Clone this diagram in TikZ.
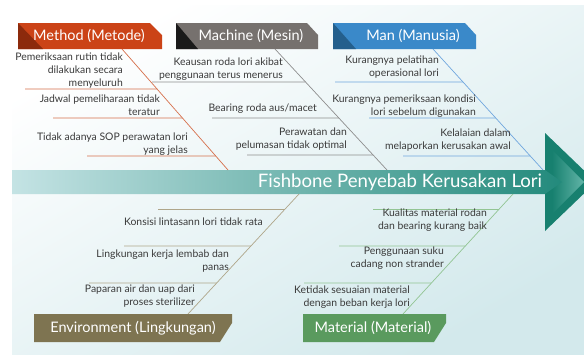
\documentclass[tikz,border=0pt]{standalone}
\usepackage{fontspec}
\setmainfont{Lato}
\usetikzlibrary{calc}
\definecolor{bgc}{HTML}{D3E9EC}
\definecolor{spineL}{HTML}{C4E3E4}
\definecolor{spineR}{HTML}{238A7C}
\definecolor{arrD}{HTML}{17806F}
\definecolor{arrL}{HTML}{62B5A8}
\definecolor{metC}{HTML}{CB4317}
\definecolor{metD}{HTML}{8C2A0C}
\definecolor{metL}{HTML}{D6704C}
\definecolor{macC}{HTML}{76716E}
\definecolor{macD}{HTML}{1A1A1A}
\definecolor{macL}{HTML}{8E8E8E}
\definecolor{manC}{HTML}{3A89C9}
\definecolor{manD}{HTML}{245F8C}
\definecolor{manL}{HTML}{6FA6DE}
\definecolor{envC}{HTML}{7E7451}
\definecolor{envL}{HTML}{AFA68A}
\definecolor{matC}{HTML}{5A9A5E}
\definecolor{matL}{HTML}{93C594}
\definecolor{txt}{HTML}{3A3A3A}
\tikzset{
  cause/.style={anchor=base east, align=right, inner sep=0pt, text=txt,
    font=\fontsize{10.4}{12.8}\selectfont},
  head/.style={text=white, inner sep=0pt, font=\fontsize{14.5}{16}\selectfont},
  bone/.style={line width=0.7pt},
}
\begin{document}
\begin{tikzpicture}[x=1pt,y=-1pt]
\useasboundingbox (0,0) rectangle (584,354);
% background
\shade[top color=white, bottom color=bgc, shading angle=30] (12,5) rectangle (584,354);

% arrow head
\fill[arrD] (545,133) -- (596,182) -- (545,231) -- cycle;
\shade[left color=arrD, right color=arrL] (552,150) -- (584,182) -- (552,214) -- cycle;
% spine band
\shade[left color=spineL, right color=spineR] (12,170) -- (545,170) -- (562,182) -- (545,194) -- (12,194) -- cycle;
\node[text=white, inner sep=0pt, font=\fontsize{18.6}{20}\selectfont] (spine) at (400,182) {Fishbone Penyebab Kerusakan Lori};

% ===== headers =====
\fill[metC] (18,23) -- (150,23) -- (162,35) -- (162,49) -- (18,49) -- cycle;
\fill[metD] (18,23) -- (43,49) -- (18,49) -- cycle;
\node[head] (method) at (89,36) {Method (Metode)};

\fill[macC] (176,23) -- (307,23) -- (318,35) -- (318,49) -- (176,49) -- cycle;
\fill[macD] (176,23) -- (198,49) -- (176,49) -- cycle;
\node[head] (machine) at (251,36) {Machine (Mesin)};

\fill[manC] (333,23) -- (465,23) -- (476,35) -- (476,49) -- (333,49) -- cycle;
\fill[manD] (333,23) -- (356,49) -- (333,49) -- cycle;
\node[head] (man) at (413,36) {Man (Manusia)};

\fill[envC] (34,314) -- (232,314) -- (232,323) -- (220,342) -- (34,342) -- cycle;
\node[head] (env) at (133,328) {Environment (Lingkungan)};

\fill[matC] (303,314) -- (446,314) -- (446,323) -- (434,342) -- (303,342) -- cycle;
\node[head] (mat) at (373,328) {Material (Material)};

% ===== bones =====
\coordinate (mA) at (122,49);  \coordinate (mB) at (228,170);
\coordinate (cA) at (275,49);  \coordinate (cB) at (387,170);
\coordinate (nA) at (433,49);  \coordinate (nB) at (543,170);
\coordinate (eA) at (188,314); \coordinate (eB) at (299,194);
\coordinate (tA) at (403,314); \coordinate (tB) at (513,194);

\draw[bone, metL] (mA) -- (mB);
\draw[bone, macL] (cA) -- (cB);
\draw[bone, manL] (nA) -- (nB);
\draw[bone, envL] (eA) -- (eB);
\draw[bone, matL] (tA) -- (tB);

% rib ends on bones
\coordinate (m1) at ($(mA)!0.331!(mB)$);
\coordinate (m2) at ($(mA)!0.570!(mB)$);
\coordinate (m3) at ($(mA)!0.884!(mB)$);
\coordinate (c1) at ($(cA)!0.273!(cB)$);
\coordinate (c2) at ($(cA)!0.570!(cB)$);
\coordinate (c3) at ($(cA)!0.876!(cB)$);
\coordinate (n1) at ($(nA)!0.273!(nB)$);
\coordinate (n2) at ($(nA)!0.570!(nB)$);
\coordinate (n3) at ($(nA)!0.884!(nB)$);
\coordinate (e1) at ($(eA)!0.875!(eB)$);
\coordinate (e2) at ($(eA)!0.567!(eB)$);
\coordinate (e3) at ($(eA)!0.258!(eB)$);
\coordinate (t1) at ($(tA)!0.875!(tB)$);
\coordinate (t2) at ($(tA)!0.567!(tB)$);
\coordinate (t3) at ($(tA)!0.258!(tB)$);

% rib free ends
\coordinate (m1s) at (25,89);   \coordinate (m2s) at (53,118);  \coordinate (m3s) at (87,156);
\coordinate (c1s) at (152,82);  \coordinate (c2s) at (212,118); \coordinate (c3s) at (247,155);
\coordinate (n1s) at (335,82);  \coordinate (n2s) at (369,118); \coordinate (n3s) at (403,156);
\coordinate (e1s) at (158,209); \coordinate (e2s) at (124,246); \coordinate (e3s) at (89,283);
\coordinate (t1s) at (373,209); \coordinate (t2s) at (339,246); \coordinate (t3s) at (304,283);

\foreach \r in {1,2,3} {
  \draw[bone, metL] (m\r s) -- (m\r);
  \draw[bone, macL] (c\r s) -- (c\r);
  \draw[bone, manL] (n\r s) -- (n\r);
  \draw[bone, envL] (e\r s) -- (e\r);
  \draw[bone, matL] (t\r s) -- (t\r);
}

% ===== causes (anchored at baseline of last line) =====
\node[cause] (mt1) at (123,86.1) {Pemeriksaan rutin tidak\\dilakukan secara\\menyeluruh};
\node[cause] (mt2) at (160,115.3) {Jadwal pemeliharaan tidak\\teratur};
\node[cause] (mt3) at (188,153.3) {Tidak adanya SOP perawatan lori\\yang jelas};

\node[cause] (ct1) at (283,78.3) {Keausan roda lori akibat\\penggunaan terus menerus};
\node[cause] (ct2) at (317,111.5) {Bearing roda aus/macet};
\node[cause] (ct3) at (347,148.3) {Perawatan dan\\pelumasan tidak optimal};

\node[cause] (nt1) at (439,76.3) {Kurangnya pelatihan\\operasional lori};
\node[cause] (nt2) at (476,115.3) {Kurangnya pemeriksaan kondisi\\lori sebelum digunakan};
\node[cause] (nt3) at (511,149.3) {Kelalaian dalam\\melaporkan kerusakan awal};

\node[cause] (et1) at (263,225.5) {Konsisi lintasann lori tidak rata};
\node[cause] (et2) at (229,270.3) {Lingkungan kerja lembab dan\\panas};
\node[cause] (et3) at (195,305.3) {Paparan air dan uap dari\\proses sterilizer};

\node[cause] (tt1) at (487,229.3) {Kualitas material rodan\\dan bearing kurang baik};
\node[cause] (tt2) at (444,267.3) {Penggunaan suku\\cadang non strander};
\node[cause] (tt3) at (410,306.3) {Ketidak sesuaian material\\dengan beban kerja lori};
\end{tikzpicture}
\end{document}
